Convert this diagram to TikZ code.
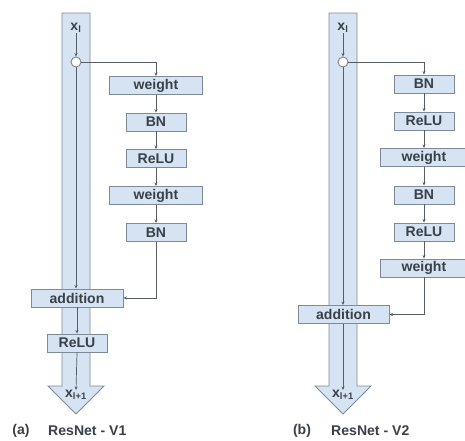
\documentclass[tikz,border=0pt]{standalone}
\usepackage{fontspec}
\setmainfont{Liberation Sans}
\usetikzlibrary{arrows.meta}

\definecolor{lblue}{RGB}{213,227,243}
\definecolor{edge}{RGB}{126,138,152}
\definecolor{ink}{RGB}{58,64,72}
\def\u{0.03cm}

\tikzset{
  blk/.style={draw=edge, fill=lblue, line width=0.8pt, minimum height=18*\u,
    inner sep=0pt, text=ink, font=\bfseries\fontsize{12}{14}\selectfont},
  wire/.style={draw=ink!85, line width=0.6pt, -{Stealth[length=3pt,width=2.6pt]}},
  shaft/.style={draw=edge, fill=lblue, line width=0.8pt},
  split/.style={circle, draw=edge, fill=white, line width=0.8pt, minimum size=10*\u, inner sep=0pt},
  lbl/.style={text=ink, inner sep=0pt, font=\bfseries\fontsize{12}{14}\selectfont},
}

\begin{document}
\begin{tikzpicture}[x=\u, y=-\u]
  \useasboundingbox (0,0) rectangle (465,441);

  % (a) ResNet - V1
  \draw[shaft] (62,13) -- (90,13) -- (90,386) -- (104,386) -- (76,414)
    -- (48,386) -- (62,386) -- cycle;
  \node[lbl] (ain) at (76,28) {x\textsubscript{l}};
  \node[split] (asplit) at (76,62) {};
  \node[lbl] (aout) at (76,395) {x\textsubscript{l+1}};
  \foreach \t/\y/\w [count=\i] in {weight/85.5/93, BN/122/60, ReLU/158.5/60, weight/195.5/93, BN/232.5/60}
    \node[blk, minimum width=\w*\u] (a\i) at (156,\y) {\t};
  \node[blk, minimum width=92*\u] (aadd) at (77,298) {addition};
  \node[blk, minimum width=60*\u] (arelu) at (77,343) {ReLU};

  \draw[wire] (ain) -- (asplit);
  \draw[wire] (asplit.east) -| (a1.north);
  \foreach \i [evaluate=\i as \j using int(\i+1)] in {1,...,4}
    \draw[wire] (a\i.south) -- (a\j.north);
  \draw[wire] (a5.south) |- (aadd.east);
  \draw[wire] (asplit.south) -- (asplit.south |- aadd.north);
  \draw[wire] (aadd.south -| arelu.north) -- (arelu.north);
  \draw[wire] (arelu.south) -- (aout.north);

  % (b) ResNet - V2
  \draw[shaft] (329,13) -- (357,13) -- (357,386) -- (371,386) -- (343,414)
    -- (315,386) -- (329,386) -- cycle;
  \node[lbl] (bin) at (343,28) {x\textsubscript{l}};
  \node[split] (bsplit) at (343,62) {};
  \node[lbl] (bout) at (343,395) {x\textsubscript{l+1}};
  \foreach \t/\y/\w [count=\i] in {BN/84/60, ReLU/121/60, weight/157.5/88, BN/195/60, ReLU/232/60, weight/268/88}
    \node[blk, minimum width=\w*\u] (b\i) at (424,\y) {\t};
  \node[blk, minimum width=91*\u] (badd) at (343.5,314.5) {addition};

  \draw[wire] (bin) -- (bsplit);
  \draw[wire] (bsplit.east) -| (b1.north);
  \foreach \i [evaluate=\i as \j using int(\i+1)] in {1,...,5}
    \draw[wire] (b\i.south) -- (b\j.north);
  \draw[wire] (b6.south) |- (badd.east);
  \draw[wire] (bsplit.south) -- (bsplit.south |- badd.north);
  \draw[wire] (badd.south -| bout.north) -- (bout.north);

  % captions
  \node[lbl] (acap) at (21,431) {(a)};
  \node[lbl, anchor=west] (aname) at (48,431) {ResNet - V1};
  \node[lbl] (bcap) at (302,431) {(b)};
  \node[lbl, anchor=west] (bname) at (331,431) {ResNet - V2};
\end{tikzpicture}
\end{document}
